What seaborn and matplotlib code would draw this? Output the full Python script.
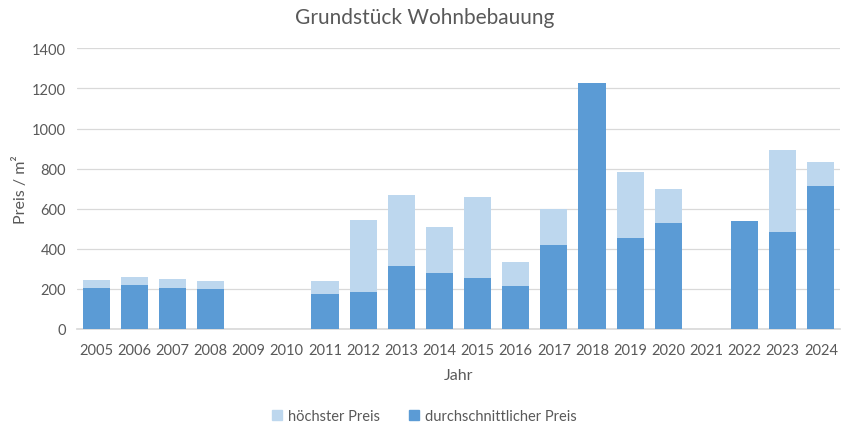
import numpy as np
import pandas as pd
import matplotlib
matplotlib.use("Agg")
import matplotlib.pyplot as plt
import seaborn as sns
from matplotlib.patches import Patch

years = ["2005", "2006", "2007", "2008", "2009", "2010", "2011", "2012", "2013", "2014",
         "2015", "2016", "2017", "2018", "2019", "2020", "2021", "2022", "2023", "2024"]
hoechster = [244, 259, 249, 239, np.nan, np.nan, 239, 544, 668, 509,
             658, 334, 599, 1227, 783, 698, np.nan, 539, 893, 833]
durchschnitt = [205, 219, 205, 200, np.nan, np.nan, 175, 185, 314, 279,
                254, 215, 419, 1227, 454, 529, np.nan, 539, 484, 713]

df = pd.DataFrame({"Jahr": years, "hoch": hoechster, "mittel": durchschnitt})

sns.set_theme(style="white")
plt.rcParams["font.family"] = ["Lato", "DejaVu Sans"]

c_light = "#BDD7EE"
c_dark = "#5B9BD5"
txt = "#595959"

fig = plt.figure(figsize=(8.49, 4.27), dpi=100)
ax = fig.add_axes([77/849, (427-330)/427, (840-77)/849, (330-49.3)/427])

sns.barplot(data=df.dropna(), x="Jahr", y="hoch", order=years, color=c_light,
            width=0.71, ax=ax, saturation=1, zorder=2, linewidth=0, edgecolor="none")
sns.barplot(data=df.dropna(), x="Jahr", y="mittel", order=years, color=c_dark,
            width=0.71, ax=ax, saturation=1, zorder=3, linewidth=0, edgecolor="none")

ax.set_xlim(-0.5, 19.5)
ax.set_ylim(0, 1400)
ax.set_yticks(range(0, 1401, 200))
ax.yaxis.grid(True, color="#D9D9D9", linewidth=0.9, zorder=0)
ax.set_axisbelow(True)
for s in ["top", "right", "left"]:
    ax.spines[s].set_visible(False)
ax.spines["bottom"].set_color("#D9D9D9")
ax.tick_params(axis="both", length=0, labelsize=10.5, colors=txt)
ax.tick_params(axis="x", pad=10)
ax.tick_params(axis="y", pad=8)
ax.set_xlabel("Jahr", fontsize=11.5, color=txt, labelpad=8)
ax.set_ylabel("Preis / m²", fontsize=11.5, color=txt, labelpad=3)
fig.suptitle("Grundstück Wohnbebauung", fontsize=15, color=txt, y=0.982)

handles = [Patch(color=c_light, label="höchster Preis"),
           Patch(color=c_dark, label="durchschnittlicher Preis")]
leg = fig.legend(handles=handles, loc="center", bbox_to_anchor=(0.5, (427-417)/427),
                 ncol=2, frameon=False, fontsize=10.5, handlelength=0.7, handleheight=0.7,
                 columnspacing=2.0, handletextpad=0.4)
for t in leg.get_texts():
    t.set_color(txt)

fig.savefig("out.png", dpi=100)
